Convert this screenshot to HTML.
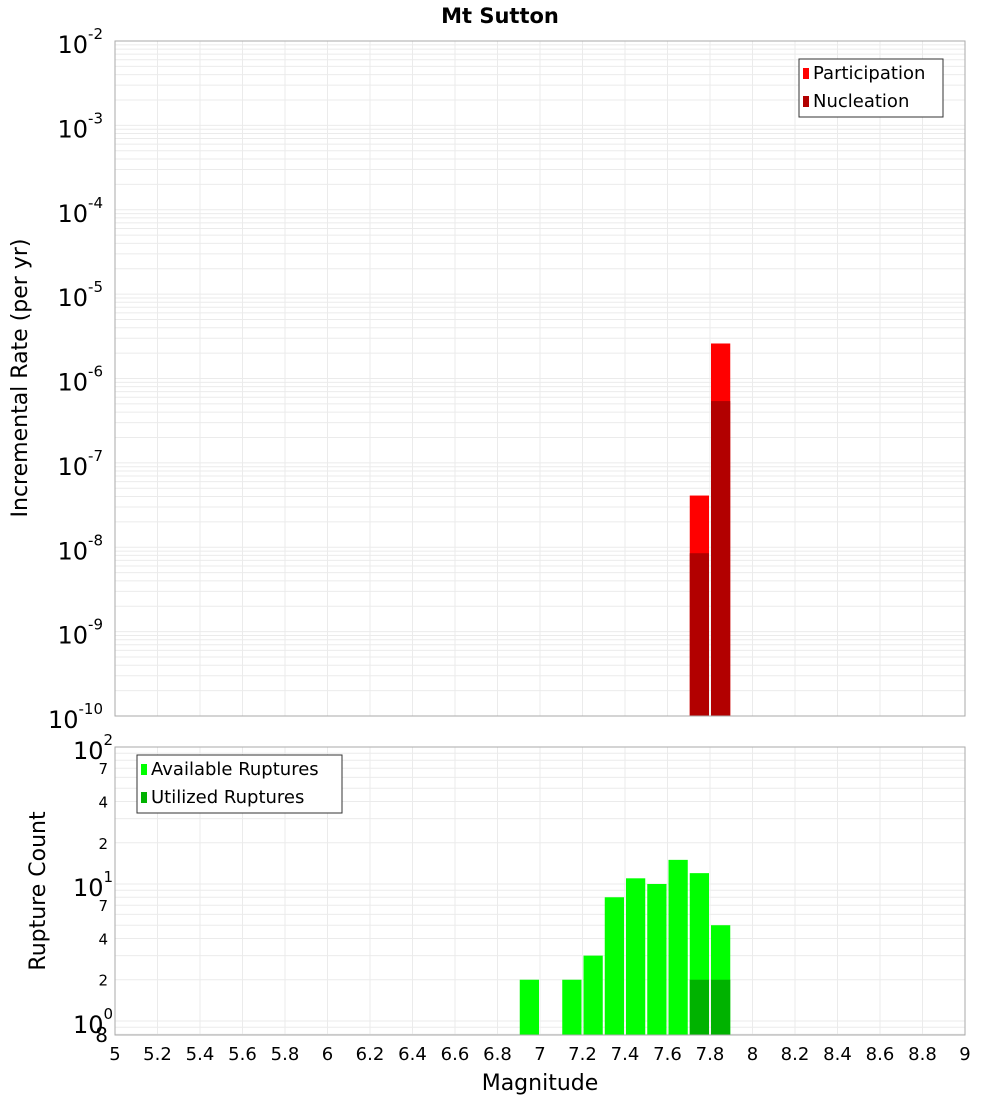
<!DOCTYPE html>
<html><head><meta charset="utf-8"><style>
body{margin:0;background:#fff;font-family:"DejaVu Sans","Liberation Sans",sans-serif;}
svg text{font-family:"DejaVu Sans","Liberation Sans",sans-serif;}
</style></head><body>
<svg id="c" width="1000" height="1100" xmlns="http://www.w3.org/2000/svg">
<text x="500" y="23" text-anchor="middle" font-size="21" font-weight="bold">Mt Sutton</text>
<g id="top"></g><g id="bot"></g>
<text transform="translate(27,378) rotate(-90)" text-anchor="middle" font-size="22">Incremental Rate (per yr)</text>
<text transform="translate(45,891) rotate(-90)" text-anchor="middle" font-size="22">Rupture Count</text>
<text x="540" y="1090" text-anchor="middle" font-size="22">Magnitude</text>
</svg>
<script>
const mags=[7.75,7.85];
const participation=[4.1e-8,2.6e-6];
const nucleation=[8.5e-9,5.4e-7];
const rupMags=[6.95,7.15,7.25,7.35,7.45,7.55,7.65,7.75,7.85];
const available=[2,2,3,8,11,10,15,12,5];
const utilMags=[7.75,7.85];
const utilized=[2,2];
const xTicks=[5,5.2,5.4,5.6,5.8,6,6.2,6.4,6.6,6.8,7,7.2,7.4,7.6,7.8,8,8.2,8.4,8.6,8.8,9];

const NS="http://www.w3.org/2000/svg";
const svg=document.getElementById('c');
function mk(t,a,p){const e=document.createElementNS(NS,t);for(const k in a)e.setAttribute(k,a[k]);(p||svg).appendChild(e);return e;}
const X0=115,X1=965;
const xs=m=>X0+(m-5)/4*(X1-X0);
// top
const T0=41,T1=716;
const ys1=v=>T0+(-2-Math.log10(v))/8*(T1-T0);
// bottom
const B0=747,B1=1035,BMAX=2,BMIN=Math.log10(0.79);
const ys2=v=>B0+(BMAX-Math.log10(v))/(BMAX-BMIN)*(B1-B0);
const gt=document.getElementById('top'),gb=document.getElementById('bot');
function grid(g,y0,y1,ysf,lo,hi,minors){
  for(const t of xTicks){let l=mk('line',{x1:xs(t),x2:xs(t),y1:y0,y2:y1,stroke:'#ebebeb'},g);}
  for(let d=lo;d<hi;d++)for(const m of minors){const v=m*Math.pow(10,d);const y=ysf(v);if(y<y0-0.5||y>y1+0.5)continue;let l=mk('line',{x1:X0,x2:X1,y1:y,y2:y,stroke:'#ebebeb'},g);}
}
grid(gt,T0,T1,ys1,-10,-2,[1,2,3,4,5,6,7,8,9]);
grid(gb,B0,B1,ys2,-1,2,[1,2,3,4,5,6,7,8,9]);
function bar(g,m,v,base,ysf,col,name){const x=xs(m-0.05)+1,w=xs(m+0.05)-xs(m-0.05)-2;const y=ysf(v);let r=mk('rect',{x:x,y:y,width:w,height:base-y,fill:col},g);}
mags.forEach((m,i)=>bar(gt,m,participation[i],T1,ys1,'#ff0000','participation-bar'));
mags.forEach((m,i)=>bar(gt,m,nucleation[i],T1,ys1,'#b20000','nucleation-bar'));
rupMags.forEach((m,i)=>bar(gb,m,available[i],B1,ys2,'#00ff00','available-bar'));
utilMags.forEach((m,i)=>bar(gb,m,utilized[i],B1,ys2,'#00b200','utilized-bar'));
mk('rect',{x:X0,y:T0,width:X1-X0,height:T1-T0,fill:'none',stroke:'#aaa'},gt);
mk('rect',{x:X0,y:B0,width:X1-X0,height:B1-B0,fill:'none',stroke:'#aaa'},gb);
// top y ticks
for(let e=-2;e>=-10;e--){const y=ys1(Math.pow(10,e));let t=mk('text',{x:103,y:y+12,'text-anchor':'end','font-size':24},gt);
 t.innerHTML='10<tspan dy="-14" font-size="15">'+e+'</tspan>';}
// bottom y ticks
[0,1,2].forEach(e=>{const y=ys2(Math.pow(10,e));let t=mk('text',{x:73,y:y+12,'font-size':24},gb);t.innerHTML='10<tspan dy="-14" font-size="15">'+e+'</tspan>';});
[[2,0],[4,0],[7,0],[2,1],[4,1],[7,1]].forEach(([m,e])=>{let t=mk('text',{x:108,y:ys2(m*Math.pow(10,e))+6,'text-anchor':'end','font-size':15},gb);t.textContent=m;});
{let t=mk('text',{x:108,y:1042,'text-anchor':'end','font-size':20},gb);t.textContent='8';}
xTicks.forEach(v=>{let t=mk('text',{x:xs(v),y:1060,'text-anchor':'middle','font-size':18},gb);t.textContent=String(v);});
function legend(g,x,y,w,items){mk('rect',{x:x,y:y,width:w,height:58,fill:'#fff',stroke:'#333'},g);items.forEach(([c,l],i)=>{mk('rect',{x:x+4,y:y+9+i*28,width:6,height:11,fill:c},g);let t=mk('text',{x:x+14,y:y+20+i*28,'font-size':18},g);t.textContent=l;});}
legend(gt,799,59,144,[['#ff0000','Participation'],['#b20000','Nucleation']]);
legend(gb,137,755,205,[['#00ff00','Available Ruptures'],['#00b200','Utilized Ruptures']]);
</script>
</body></html>
